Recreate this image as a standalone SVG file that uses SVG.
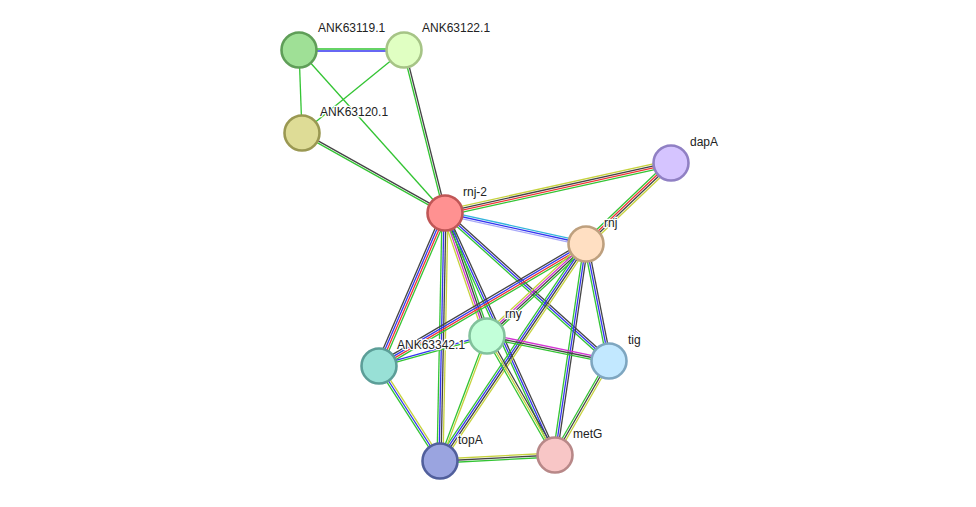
<svg xmlns="http://www.w3.org/2000/svg" width="976" height="507" viewBox="0 0 976 507">
<style>
line{stroke-width:1.3;fill:none}
.g{stroke:#33c433}.b{stroke:#3434f0}.k{stroke:#444}.r{stroke:#f03434}.y{stroke:#c6d23c}.m{stroke:#d234d2}.c{stroke:#34b4dc}.l{stroke:#a8a8f8}
circle{stroke-width:2.6}
text{font-family:"Liberation Sans",Arial,sans-serif;font-size:12px;fill:#222;stroke:#fff;stroke-width:2.5;paint-order:stroke;stroke-linejoin:round}
</style>
<rect width="976" height="507" fill="#fff"/>
<g id="edges">
<line class="g" x1="299" y1="49" x2="404" y2="49"/><line class="b" x1="299" y1="51" x2="404" y2="51"/>
<line class="g" x1="299" y1="50" x2="302" y2="133"/>
<line class="g" x1="299" y1="50" x2="445" y2="213"/>
<line class="g" x1="404" y1="50" x2="302" y2="133"/>
<line class="g" x1="403.03" y1="50.24" x2="444.03" y2="213.24"/><line class="k" x1="404.97" y1="49.76" x2="445.97" y2="212.76"/>
<line class="k" x1="302.49" y1="132.13" x2="445.49" y2="212.13"/><line class="g" x1="301.51" y1="133.87" x2="444.51" y2="213.87"/>
<line class="y" x1="444.35" y1="210.07" x2="670.35" y2="160.07"/><line class="k" x1="444.78" y1="212.02" x2="670.78" y2="162.02"/><line class="r" x1="445.22" y1="213.98" x2="671.22" y2="163.98"/><line class="g" x1="445.65" y1="215.93" x2="671.65" y2="165.93"/>
<line class="c" x1="445.43" y1="211.05" x2="586.43" y2="242.05"/><line class="b" x1="445" y1="213" x2="586" y2="244"/><line class="l" x1="444.57" y1="214.95" x2="585.57" y2="245.95"/>
<line class="g" x1="668.93" y1="160.83" x2="583.93" y2="241.83"/><line class="r" x1="670.31" y1="162.28" x2="585.31" y2="243.28"/><line class="k" x1="671.69" y1="163.72" x2="586.69" y2="244.72"/><line class="y" x1="673.07" y1="165.17" x2="588.07" y2="246.17"/>
<line class="k" x1="442.25" y1="211.81" x2="376.25" y2="364.81"/><line class="b" x1="444.08" y1="212.6" x2="378.08" y2="365.6"/><line class="r" x1="445.92" y1="213.4" x2="379.92" y2="366.4"/><line class="g" x1="447.75" y1="214.19" x2="381.75" y2="367.19"/>
<line class="g" x1="442" y1="212.94" x2="437" y2="460.94"/><line class="b" x1="444" y1="212.98" x2="439" y2="460.98"/><line class="k" x1="446" y1="213.02" x2="441" y2="461.02"/><line class="y" x1="448" y1="213.06" x2="443" y2="461.06"/>
<line class="y" x1="442.16" y1="213.97" x2="484.16" y2="336.97"/><line class="m" x1="444.05" y1="213.32" x2="486.05" y2="336.32"/><line class="k" x1="445.95" y1="212.68" x2="487.95" y2="335.68"/><line class="g" x1="447.84" y1="212.03" x2="489.84" y2="335.03"/>
<line class="g" x1="443.18" y1="213.83" x2="553.18" y2="455.83"/><line class="b" x1="445" y1="213" x2="555" y2="455"/><line class="k" x1="446.82" y1="212.17" x2="556.82" y2="454.17"/>
<line class="k" x1="446.34" y1="211.52" x2="610.34" y2="359.52"/><line class="b" x1="445" y1="213" x2="609" y2="361"/><line class="g" x1="443.66" y1="214.48" x2="607.66" y2="362.48"/>
<line class="k" x1="584.48" y1="241.41" x2="377.48" y2="363.41"/><line class="b" x1="585.49" y1="243.14" x2="378.49" y2="365.14"/><line class="r" x1="586.51" y1="244.86" x2="379.51" y2="366.86"/><line class="g" x1="587.52" y1="246.59" x2="380.52" y2="368.59"/>
<line class="y" x1="583.96" y1="241.8" x2="484.96" y2="333.8"/><line class="m" x1="585.32" y1="243.27" x2="486.32" y2="335.27"/><line class="k" x1="586.68" y1="244.73" x2="487.68" y2="336.73"/><line class="g" x1="588.04" y1="246.2" x2="489.04" y2="338.2"/>
<line class="g" x1="583.51" y1="242.33" x2="437.51" y2="459.33"/><line class="b" x1="585.17" y1="243.44" x2="439.17" y2="460.44"/><line class="k" x1="586.83" y1="244.56" x2="440.83" y2="461.56"/><line class="y" x1="588.49" y1="245.67" x2="442.49" y2="462.67"/>
<line class="g" x1="584.02" y1="243.71" x2="553.02" y2="454.71"/><line class="b" x1="586" y1="244" x2="555" y2="455"/><line class="k" x1="587.98" y1="244.29" x2="556.98" y2="455.29"/>
<line class="g" x1="584.04" y1="244.39" x2="607.04" y2="361.39"/><line class="b" x1="586" y1="244" x2="609" y2="361"/><line class="k" x1="587.96" y1="243.61" x2="610.96" y2="360.61"/>
<line class="b" x1="486.73" y1="335.04" x2="378.73" y2="365.04"/><line class="g" x1="487.27" y1="336.96" x2="379.27" y2="366.96"/>
<line class="m" x1="487.4" y1="334.04" x2="609.4" y2="359.04"/><line class="k" x1="487" y1="336" x2="609" y2="361"/><line class="g" x1="486.6" y1="337.96" x2="608.6" y2="362.96"/>
<line class="g" x1="486.06" y1="335.65" x2="439.06" y2="460.65"/><line class="y" x1="487.94" y1="336.35" x2="440.94" y2="461.35"/>
<line class="g" x1="485.26" y1="336.99" x2="553.26" y2="455.99"/><line class="y" x1="487" y1="336" x2="555" y2="455"/><line class="k" x1="488.74" y1="335.01" x2="556.74" y2="454.01"/>
<line class="g" x1="377.32" y1="367.08" x2="438.32" y2="462.08"/><line class="b" x1="379" y1="366" x2="440" y2="461"/><line class="y" x1="380.68" y1="364.92" x2="441.68" y2="459.92"/>
<line class="y" x1="439.9" y1="459" x2="554.9" y2="453"/><line class="k" x1="440" y1="461" x2="555" y2="455"/><line class="g" x1="440.1" y1="463" x2="555.1" y2="457"/>
<line class="g" x1="607.27" y1="360" x2="553.27" y2="454"/><line class="k" x1="609" y1="361" x2="555" y2="455"/><line class="y" x1="610.73" y1="362" x2="556.73" y2="456"/>
</g>
<g id="ANK63119.1"><circle cx="299" cy="50" r="17.5" fill="#9fe096" stroke="#5f9e58"/><text x="318" y="32">ANK63119.1</text></g>
<g id="ANK63122.1"><circle cx="404" cy="50" r="17.5" fill="#e0ffc2" stroke="#a6c486"/><text x="422" y="32">ANK63122.1</text></g>
<g id="ANK63120.1"><circle cx="302" cy="133" r="17.5" fill="#dedc96" stroke="#9a9852"/><text x="320" y="116">ANK63120.1</text></g>
<g id="rnj-2"><circle cx="445" cy="213" r="17.5" fill="#ff9191" stroke="#c05656"/><text x="463" y="196">rnj-2</text></g>
<g id="dapA"><circle cx="671" cy="163" r="17.5" fill="#d5c4ff" stroke="#9080c4"/><text x="690" y="146">dapA</text></g>
<g id="rnj"><circle cx="586" cy="244" r="17.5" fill="#ffdfc2" stroke="#bea07e"/><text x="604" y="227">rnj</text></g>
<g id="rny"><circle cx="487" cy="336" r="17.5" fill="#c2ffd9" stroke="#82c29c"/><text x="505" y="318">rny</text></g>
<g id="ANK63342.1"><circle cx="379" cy="366" r="17.5" fill="#98e0d6" stroke="#5c9e98"/><text x="397" y="349">ANK63342.1</text></g>
<g id="tig"><circle cx="609" cy="361" r="17.5" fill="#c2e8ff" stroke="#7ea6c0"/><text x="628" y="344">tig</text></g>
<g id="topA"><circle cx="440" cy="461" r="17.5" fill="#9aa4e0" stroke="#515f9c"/><text x="458" y="444">topA</text></g>
<g id="metG"><circle cx="555" cy="455" r="17.5" fill="#f8c6c6" stroke="#b88888"/><text x="573" y="438">metG</text></g>
</svg>
